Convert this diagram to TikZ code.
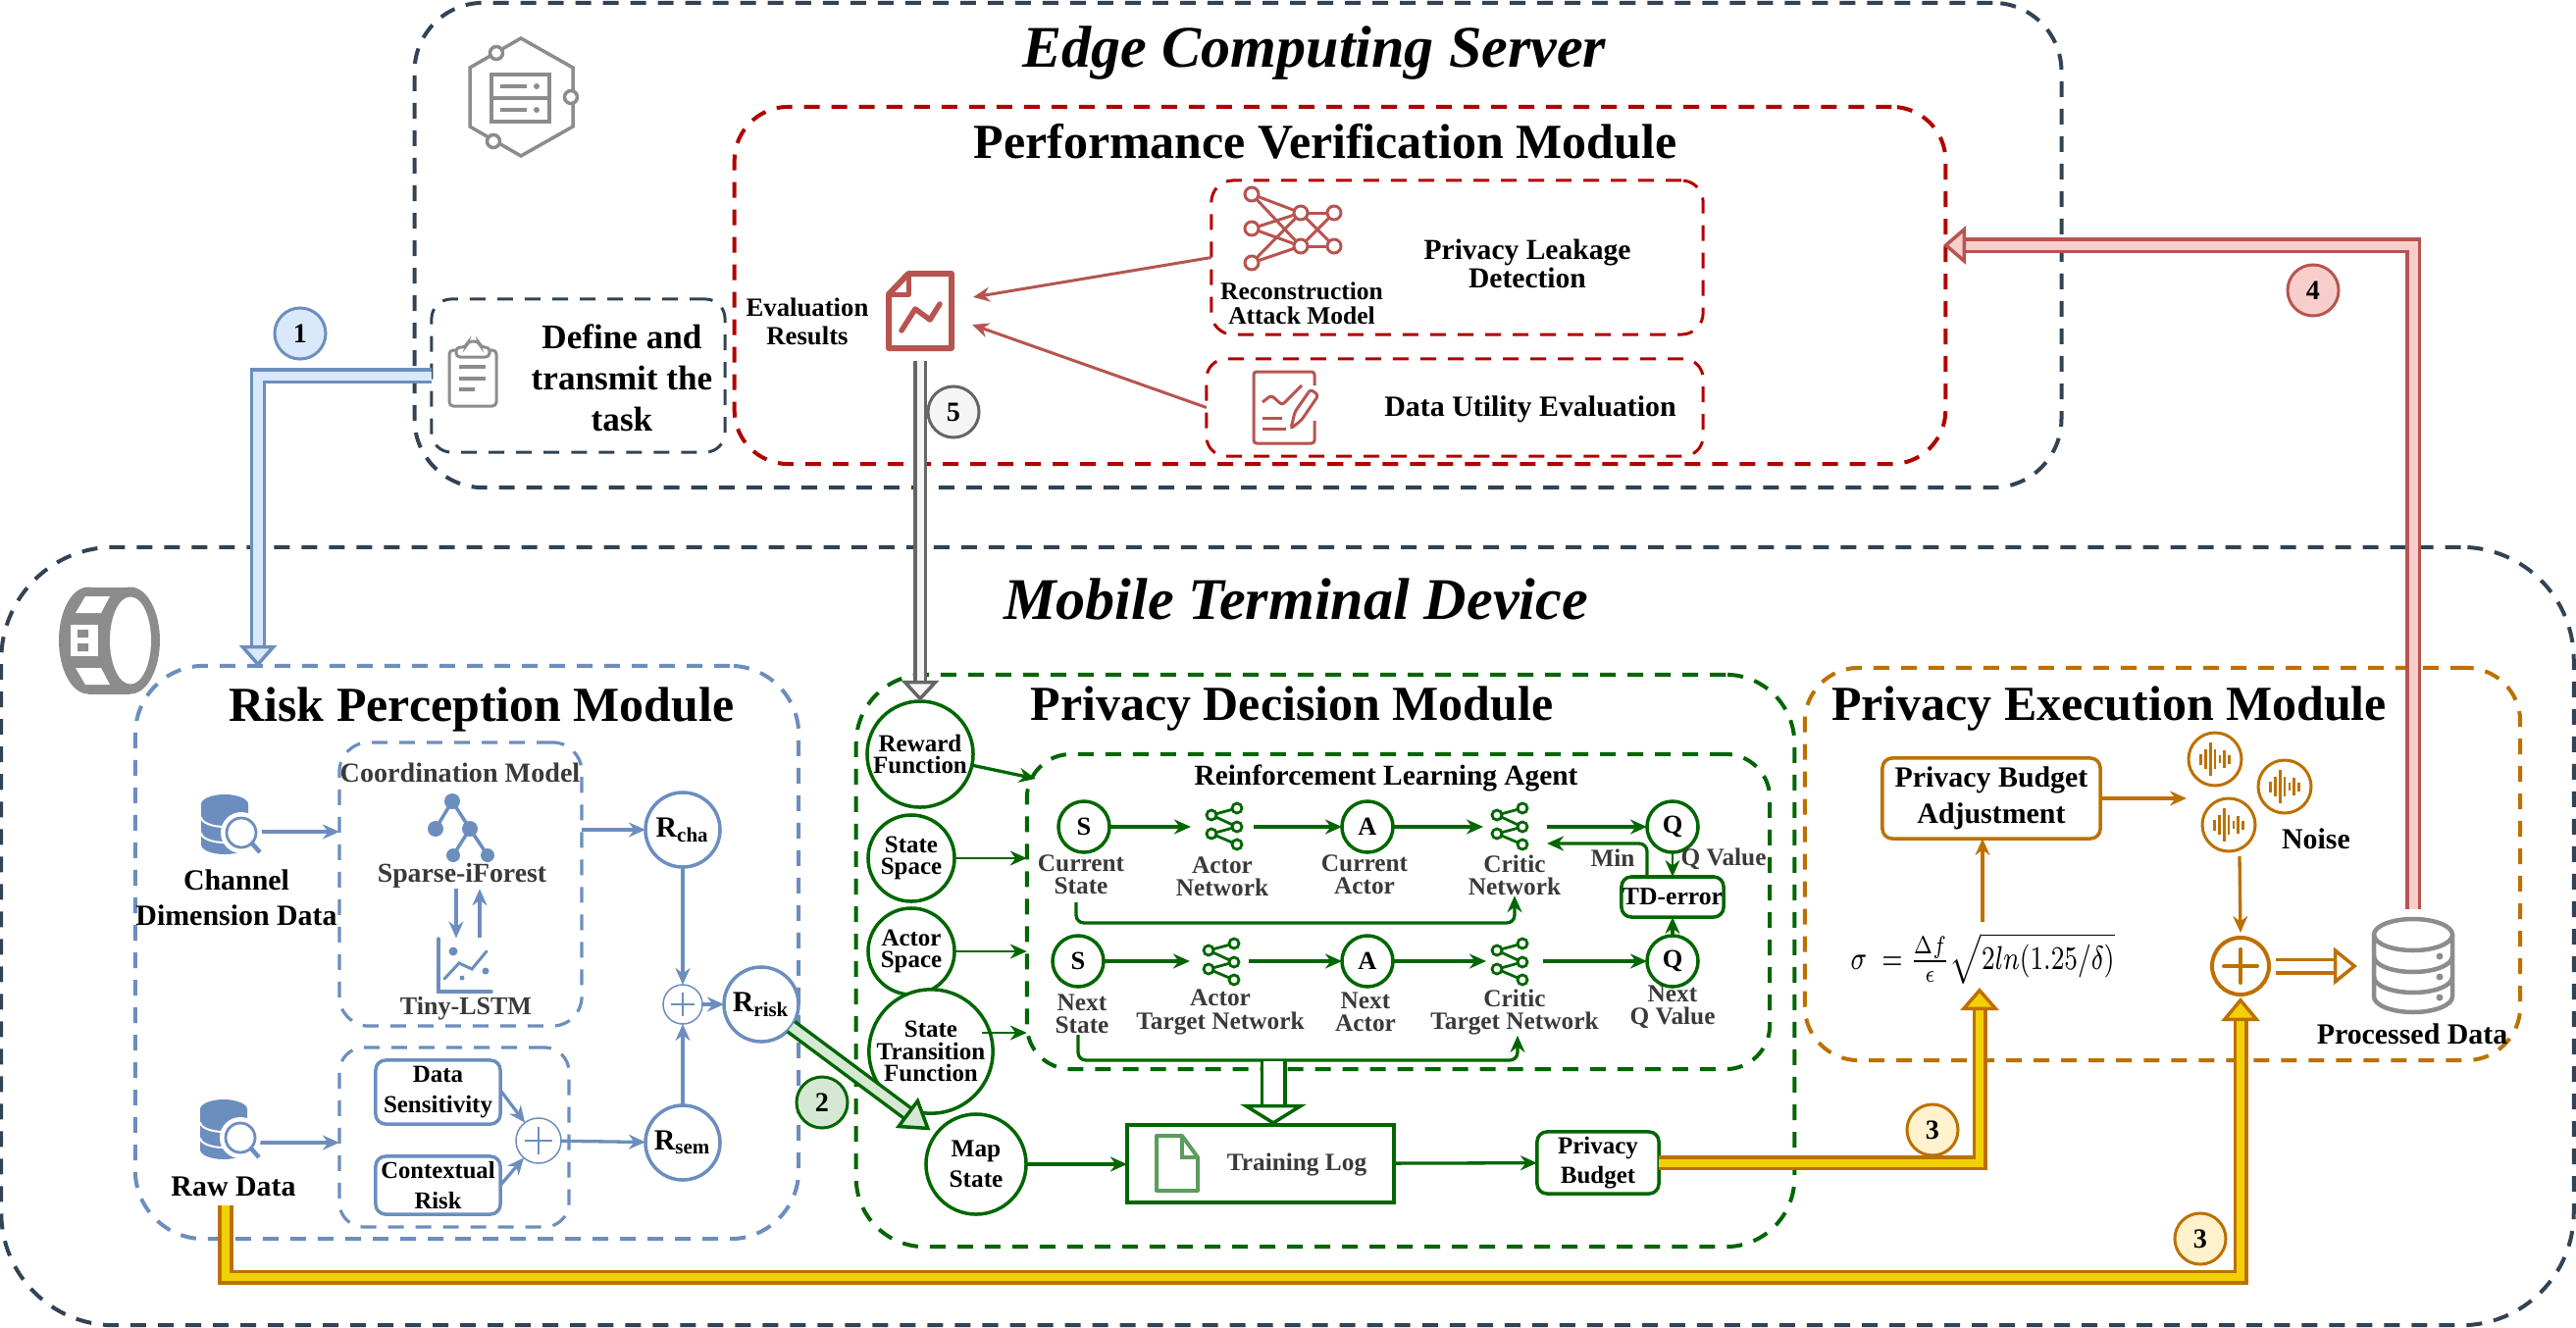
\documentclass[tikz,border=0pt]{standalone}
\usepackage{fontspec}
\setmainfont{Liberation Serif}
\usetikzlibrary{arrows.meta,shapes.geometric}

\definecolor{slateln}{HTML}{314354}
\definecolor{redln}{HTML}{B20000}
\definecolor{redic}{HTML}{B85450}
\definecolor{redfl}{HTML}{F8CECC}
\definecolor{blueln}{HTML}{6C8EBF}
\definecolor{bluefl}{HTML}{DAE8FC}
\definecolor{greenln}{HTML}{006600}
\definecolor{greenfl}{HTML}{D5E8D4}
\definecolor{greenic}{HTML}{5C9C5C}
\definecolor{orangeln}{HTML}{BD7000}
\definecolor{yellowfl}{HTML}{F2D008}
\definecolor{yellowpl}{HTML}{FFF2CC}
\definecolor{grayln}{HTML}{666666}
\definecolor{grayfl}{HTML}{F5F5F5}
\definecolor{grayic}{HTML}{8C8C8C}
\definecolor{labeltx}{HTML}{3A3A3A}

\tikzset{
  frame/.style 2 args={draw=#1,line width=.04cm,dash pattern=on .16cm off .12cm,rounded corners=#2,inner sep=0,outer sep=0},
  hugetx/.style={font=\bfseries\itshape\fontsize{17.1}{20}\selectfont},
  modtx/.style={font=\bfseries\fontsize{14.2}{17}\selectfont},
  bigtx/.style={font=\bfseries\fontsize{8.5}{10.2}\selectfont,align=center,inner sep=0},
  deftx/.style={font=\bfseries\fontsize{10}{12}\selectfont,align=center,inner sep=0},
  smalltx/.style={font=\bfseries\fontsize{7.2}{6.6}\selectfont,align=center,inner sep=0,text=labeltx},
  ringtx/.style={font=\bfseries\fontsize{7.1}{6.3}\selectfont,align=center,inner sep=0},
  ring/.style 2 args={circle,draw=#1,line width=.035cm,fill=white,minimum size=#2 cm,inner sep=0,outer sep=0},
  flow/.style={draw=#1,line width=.033cm,>={Stealth[length=.17cm,width=.15cm]},->},
  thinflow/.style={draw=#1,line width=.03cm,>={Stealth[length=.17cm,width=.15cm]},->},
  roundbox/.style={draw=#1,line width=.035cm,rounded corners=.1cm,inner sep=0,outer sep=0,fill=white},
  iconbox/.style 2 args={minimum width=#1 cm,minimum height=#2 cm,inner sep=0,outer sep=0},
  blockflow/.style n args={3}{draw=#1,double=#2,double distance=#3,line width=.035cm,line join=miter},
  numring/.style 2 args={circle,draw=#1,fill=#2,line width=.03cm,minimum size=.52cm,inner sep=0,font=\bfseries\fontsize{8}{9}\selectfont}
}

\newcommand{\shareicon}[2]{
  \begin{scope}[shift={(#1,#2)},draw=greenln,line width=.028cm]
    \draw (-13,-12) -- (13,-19) (-13,-12) -- (13,0) (-13,7) -- (13,0) (-13,7) -- (13,18);
    \foreach \pa/\pb in {-13/-12,13/-19,13/0,-13/7,13/18}
      \draw[fill=white] (\pa,\pb) circle[radius=5];
  \end{scope}
}
\newcommand{\noiseicon}[2]{
  \begin{scope}[shift={(#1,#2)}]
    \draw[orangeln,line width=.03cm] (0,0) circle[radius=27];
    \foreach \pa/\pb in {-14.3/5.5,-9.3/10,-4.7/16.7,0/10,5/4,9.7/9,14.3/4.5}
      \draw[orangeln,line width=.028cm] (\pa,-\pb) -- (\pa,\pb);
  \end{scope}
}
\newcommand{\dbsearch}[2]{
  \begin{scope}[shift={(#1,#2)}]
    \fill[blueln] (-24,0) -- (-24,41) arc[start angle=180,end angle=0,x radius=24,y radius=10] -- (24,0) -- cycle;
    \fill[blueln] (0,0) circle[x radius=24,y radius=10];
    \foreach \pa in {13,29}
      \draw[white,line width=.02cm] (-24,\pa) arc[start angle=180,end angle=0,x radius=24,y radius=10];
    \fill[white] (17,29) circle[radius=21];
    \draw[blueln,line width=.028cm,fill=white] (17,29) circle[radius=15];
    \draw[blueln,line width=.045cm] (28,40) -- (36,49);
  \end{scope}
}
\newcommand{\plusmark}[2]{
  \draw[blueln,line width=.015cm] ([xshift=-#2]#1.center) -- ([xshift=#2]#1.center) ([yshift=-#2]#1.center) -- ([yshift=#2]#1.center);
}

\begin{document}
\begin{tikzpicture}[x=.01cm,y=-.01cm]
\useasboundingbox (0,0) rectangle (2626,1354);

\node[frame={slateln}{.7cm},minimum width=16.78cm,minimum height=4.94cm] (edgebox) at (1262,250) {};
\node[frame={redln}{.55cm},minimum width=12.34cm,minimum height=3.64cm] (perfbox) at (1366,291) {};
\node[frame={redln}{.22cm},line width=.03cm,minimum width=5.01cm,minimum height=1.57cm] (leakbox) at (1485.5,262.5) {};
\node[frame={redln}{.2cm},line width=.03cm,minimum width=5.06cm,minimum height=.99cm] (utilbox) at (1483,415.5) {};
\node[frame={slateln}{.2cm},line width=.03cm,minimum width=2.99cm,minimum height=1.56cm] (definebox) at (589.5,383) {};
\node[frame={slateln}{1.15cm},minimum width=26.21cm,minimum height=7.93cm] (mobilebox) at (1312.5,954.5) {};
\node[frame={blueln}{.7cm},minimum width=6.76cm,minimum height=5.84cm] (riskbox) at (476,971) {};
\node[frame={blueln}{.3cm},line width=.032cm,minimum width=2.47cm,minimum height=2.89cm] (coordbox) at (469.5,901.5) {};
\node[frame={blueln}{.25cm},line width=.032cm,minimum width=2.34cm,minimum height=1.83cm] (fusebox) at (463,1159.5) {};
\node[frame={greenln}{.7cm},minimum width=9.56cm,minimum height=5.83cm] (decbox) at (1351,979.5) {};
\node[frame={greenln}{.45cm},minimum width=7.57cm,minimum height=3.21cm] (rlbox) at (1425.5,929.5) {};
\node[frame={orangeln}{.55cm},minimum width=7.29cm,minimum height=4cm] (execbox) at (2204.5,881) {};

\node[hugetx] (edgetitle) at (1340,54) {Edge Computing Server};
\node[hugetx] (mobiletitle) at (1321,611) {Mobile Terminal Device};
\node[modtx] (perftitle) at (1351,144) {Performance Verification Module};
\node[modtx] (risktitle) at (491,723) {Risk Perception Module};
\node[modtx] (dectitle) at (1317,723) {Privacy Decision Module};
\node[modtx] (exectitle) at (2150,723) {Privacy Execution Module};

\node[deftx,font=\bfseries\fontsize{10}{11.9}\selectfont] (definetx) at (634,385) {Define and\\transmit the\\task};
\node[bigtx,font=\bfseries\fontsize{7.6}{8.2}\selectfont] (evaltx) at (823,328) {Evaluation\\Results};
\node[bigtx,font=\bfseries\fontsize{7.25}{7}\selectfont] (recontx) at (1327,309) {Reconstruction\\Attack Model};
\node[bigtx,font=\bfseries\fontsize{8.4}{8.2}\selectfont] (leaktx) at (1557,269) {Privacy Leakage\\Detection};
\node[bigtx] (utiltx) at (1560,417) {Data Utility Evaluation};

\node[iconbox={.76}{.8}] (evalicon) at (938,317) {};
\coordinate (evalinA) at (992,303);
\coordinate (evalinB) at (991,331);
\coordinate (evalout) at (938,368);
\coordinate (perfin) at (1981,250);
\coordinate (redstart) at (2460,927);
\coordinate (riskin) at (263,680);

\node[bigtx] (channeltx) at (241,915) {Channel\\Dimension Data};
\node[bigtx] (rawtx) at (238,1210) {Raw Data};
\node[iconbox={.6}{.6}] (chanicon) at (235,848) {};
\node[iconbox={.6}{.6}] (rawicon) at (232,1165) {};
\node[bigtx,text=labeltx,font=\bfseries\fontsize{8}{9}\selectfont] (coordtx) at (469,788) {Coordination Model};
\node[bigtx,text=labeltx,font=\bfseries\fontsize{7.9}{9}\selectfont] (sparsetx) at (471,893) {Sparse-iForest};
\node[bigtx,text=labeltx,font=\bfseries\fontsize{7.4}{9}\selectfont] (lstmtx) at (475,1028) {Tiny-LSTM};
\node[iconbox={.6}{.55}] (lstmicon) at (473,984) {};
\node[ring={blueln}{.76},font=\bfseries\fontsize{8.5}{10}\selectfont] (rcha) at (696,846) {R\textsubscript{cha}};
\node[ring={blueln}{.76},font=\bfseries\fontsize{8.5}{10}\selectfont] (rsem) at (696,1165) {R\textsubscript{sem}};
\node[ring={blueln}{.76},font=\bfseries\fontsize{8.5}{10}\selectfont] (rrisk) at (776,1024) {R\textsubscript{risk}};
\node[ring={blueln}{.4},line width=.015cm] (plusa) at (696,1024) {};
\node[ring={blueln}{.46},line width=.015cm] (plusb) at (549,1163) {};
\node[roundbox=blueln,minimum width=1.27cm,minimum height=.65cm,font=\bfseries\fontsize{7.1}{8.8}\selectfont,align=center] (sensebox) at (446.5,1113.5) {Data\\Sensitivity};
\node[roundbox=blueln,minimum width=1.27cm,minimum height=.59cm,font=\bfseries\fontsize{7}{8.8}\selectfont,align=center] (ctxbox) at (446.5,1208.5) {Contextual\\Risk};

\node[ring={greenln}{1.08},ringtx] (reward) at (938,769) {Reward\\Function};
\node[ring={greenln}{.88},ringtx] (statesp) at (929,875) {State\\Space};
\node[ring={greenln}{.88},ringtx] (actorsp) at (929,970) {Actor\\Space};
\node[ring={greenln}{1.08},ringtx] (transfn) at (949,1072) {State\\Transition\\Function};
\node[ring={greenln}{1.02},ringtx,font=\bfseries\fontsize{7.2}{8.8}\selectfont] (mapstate) at (995,1187) {Map\\State};
\node[bigtx,font=\bfseries\fontsize{8.35}{10}\selectfont] (rltitle) at (1413,793) {Reinforcement Learning Agent};

\node[ring={greenln}{.52},font=\bfseries\fontsize{7.5}{9}\selectfont] (scur) at (1105,843) {S};
\node[ring={greenln}{.52},font=\bfseries\fontsize{7.5}{9}\selectfont] (acur) at (1394,843) {A};
\node[ring={greenln}{.52},font=\bfseries\fontsize{7.5}{9}\selectfont] (qcur) at (1705,843) {Q};
\node[ring={greenln}{.52},font=\bfseries\fontsize{7.5}{9}\selectfont] (snext) at (1099,980) {S};
\node[ring={greenln}{.52},font=\bfseries\fontsize{7.5}{9}\selectfont] (anext) at (1394,980) {A};
\node[ring={greenln}{.52},font=\bfseries\fontsize{7.5}{9}\selectfont] (qnext) at (1705,980) {Q};
\node[iconbox={.64}{.5}] (actnet) at (1246,843) {};
\node[iconbox={.65}{.5}] (critnet) at (1544.5,843) {};
\node[iconbox={.6}{.5}] (acttgt) at (1243,980) {};
\node[iconbox={.58}{.5}] (crittgt) at (1544,980) {};

\node[smalltx] (curstatetx) at (1102,892) {Current\\State};
\node[smalltx] (actnettx) at (1246,894) {Actor\\Network};
\node[smalltx] (curacttx) at (1391,892) {Current\\Actor};
\node[smalltx] (critnettx) at (1544,892) {Critic\\Network};
\node[smalltx] (nextstatetx) at (1103,1034) {Next\\State};
\node[smalltx] (acttgttx) at (1244,1032) {Actor\\Target Network};
\node[smalltx] (nextacttx) at (1392,1032) {Next\\Actor};
\node[smalltx] (crittgttx) at (1544,1032) {Critic\\Target Network};
\node[smalltx] (nextqtx) at (1705,1027) {Next\\Q Value};
\node[smalltx] (mintx) at (1644,875) {Min};
\node[smalltx] (qvaltx) at (1757,876) {Q Value};
\node[roundbox=greenln,minimum width=1.04cm,minimum height=.41cm,font=\bfseries\fontsize{7.3}{9}\selectfont] (tdbox) at (1705,914.5) {TD-error};

\node[draw=greenln,line width=.035cm,inner sep=0,outer sep=0,minimum width=2.72cm,minimum height=.79cm] (trainlog) at (1285,1186.5) {};
\node[smalltx] (traintx) at (1322,1187) {Training Log};
\node[roundbox=greenln,minimum width=1.24cm,minimum height=.63cm,font=\bfseries\fontsize{7.1}{8.6}\selectfont,align=center] (budget) at (1629,1185.5) {Privacy\\Budget};

\node[roundbox=orangeln,minimum width=2.22cm,minimum height=.82cm,font=\bfseries\fontsize{8.5}{10.4}\selectfont,align=center] (pbadj) at (2030,814) {Privacy Budget\\Adjustment};
\node[bigtx] (noisetx) at (2361,855) {Noise};
\node[bigtx] (proctx) at (2459,1054) {Processed Data};
\node[font=\fontsize{8.2}{10}\selectfont,inner sep=0] (formula) at (2021,977) {\scalebox{.915}[1.2]{$\sigma\;=\frac{\Delta f}{\epsilon}\sqrt{2ln(1.25/\delta)}$}};
\node[ring={orangeln}{.58},line width=.04cm,fill=none] (plusc) at (2284,985) {};
\node[iconbox={.86}{1}] (procdb) at (2460,985) {};

\coordinate (formout) at (2021,940);
\coordinate (formin) at (2018,1007);
\coordinate (noisein) at (2229,814);
\coordinate (noiseout) at (2283,873);
\coordinate (rawout) at (230,1229);
\coordinate (rawbend) at (230,1302);
\coordinate (critin) at (1577,860);
\coordinate (brkA) at (1097,920);
\coordinate (brkB) at (1097,941);
\coordinate (brkC) at (1099,1055);
\coordinate (brkD) at (1099,1081);
\coordinate (rlout) at (1298,1082);
\coordinate (transout) at (1001,1053);

\draw[thinflow=redic] (leakbox.west) -- (evalinA);
\draw[thinflow=redic] (utilbox.west) -- (evalinB);

\draw[flow=blueln] (chanicon) -- (coordbox.west |- chanicon);
\draw[flow=blueln] (rawicon) -- (fusebox.west |- rawicon);
\draw[flow=blueln] (coordbox.east |- rcha) -- (rcha);
\draw[flow=blueln] ([xshift=-.06cm]sparsetx.south) -- ([xshift=-.06cm]sparsetx.south |- lstmicon.north);
\draw[flow=blueln] ([xshift=.18cm]sparsetx.south |- lstmicon.north) -- ([xshift=.18cm]sparsetx.south);
\draw[flow=blueln] (rcha) -- (plusa);
\draw[flow=blueln] (rsem) -- (plusa);
\draw[flow=blueln] (plusa) -- (rrisk);
\draw[flow=blueln] (plusb) -- (rsem);
\draw[flow=blueln] ([yshift=.02cm]sensebox.east) -- (plusb);
\draw[flow=blueln] (ctxbox.east) -- (plusb);
\plusmark{plusa}{.12cm}
\plusmark{plusb}{.14cm}

\draw[flow=greenln] (reward) -- ([shift={(.09cm,-.25cm)}]rlbox.north west);
\draw[flow=greenln,line width=.025cm] (statesp) -- (rlbox.west |- statesp);
\draw[flow=greenln,line width=.025cm] (actorsp) -- (rlbox.west |- actorsp);
\draw[flow=greenln,line width=.025cm] (transout) -- (rlbox.west |- transout);
\draw[flow=greenln] (scur) -- (actnet);
\draw[flow=greenln] (actnet) -- (acur);
\draw[flow=greenln] (acur) -- (critnet);
\draw[flow=greenln] (critnet) -- (qcur);
\draw[flow=greenln] (snext) -- (acttgt);
\draw[flow=greenln] (acttgt) -- (anext);
\draw[flow=greenln] (anext) -- (crittgt);
\draw[flow=greenln] (crittgt) -- (qnext);
\draw[flow=greenln,line width=.025cm] (qcur) -- (tdbox);
\draw[flow=greenln] (qnext) -- (tdbox);
\draw[flow=greenln,rounded corners=.08cm] ([xshift=-.26cm]tdbox.north) |- (critin);
\draw[flow=greenln,rounded corners=.08cm] (brkA) -- (brkB) -| (critnettx.south);
\draw[flow=greenln,rounded corners=.08cm] (brkC) -- (brkD) -| ([xshift=.03cm]crittgttx.south);
\draw[flow=greenln] (mapstate) -- (trainlog.west |- mapstate);
\draw[flow=greenln] (trainlog) -- (budget);

\draw[flow=orangeln] (pbadj.east) -- (noisein);
\draw[flow=orangeln] (formout) -- (formout |- pbadj.south);
\draw[flow=orangeln] (noiseout) -- ([yshift=.05cm]plusc.north);

\draw[blockflow={blueln}{bluefl}{.09cm},-{Triangle[length=.22cm,width=.38cm,fill=bluefl]}] (definebox.west) -| (riskin);
\draw[blockflow={grayln}{grayfl}{.07cm},-{Triangle[length=.21cm,width=.38cm,fill=grayfl]}] (evalout) -- (reward.north);
\draw[blockflow={redic}{redfl}{.09cm},-{Triangle[length=.23cm,width=.39cm,fill=redfl]}] (redstart) |- (perfin);
\draw[blockflow={greenln}{greenfl}{.09cm},shorten >=.07cm,-{Triangle[length=.3cm,width=.38cm,fill=greenfl]}] (rrisk) -- (mapstate);
\draw[blockflow={orangeln}{yellowfl}{.08cm},shorten >=.03cm,-{Triangle[length=.24cm,width=.39cm,fill=yellowfl]}] (rawout) -- (rawbend) -| (plusc.south);
\draw[blockflow={orangeln}{yellowfl}{.08cm},-{Triangle[length=.23cm,width=.39cm,fill=yellowfl]}] (budget.east) -| (formin);
\draw[blockflow={greenln}{white}{.2cm},-{Triangle[length=.21cm,width=.67cm,fill=white]}] (rlout) -- (rlout |- trainlog.north);
\draw[blockflow={orangeln}{white}{.1cm},shorten <=.07cm,shorten >=.14cm,-{Triangle[length=.24cm,width=.38cm,fill=white]}] (plusc) -- (procdb);

\node[numring={blueln}{bluefl}] (stepa) at (306,340) {1};
\node[numring={greenln}{greenfl}] (stepb) at (838,1124) {2};
\node[numring={orangeln}{yellowpl}] (stepc) at (1970,1152) {3};
\node[numring={orangeln}{yellowpl}] (stepd) at (2243,1263) {3};
\node[numring={redic}{redfl}] (stepe) at (2358,296) {4};
\node[numring={grayln}{grayfl}] (stepf) at (972,420) {5};

\begin{scope}[grayic,line width=.035cm]
  \draw (531,39) -- (584,69) -- (584,129) -- (531,159) -- (479,129) -- (479,69) -- cycle;
  \draw (501,76) rectangle (560,124) (501,100) -- (560,100);
  \draw[line width=.04cm] (510,88) -- (537,88) (510,112) -- (537,112);
  \fill (547,88) circle[radius=3] (547,112) circle[radius=3];
  \draw[fill=white] (506,54) circle[radius=6.5] (582,99) circle[radius=6.5] (503,144) circle[radius=6.5];
\end{scope}

\begin{scope}[grayic,line width=.03cm,rounded corners=.04cm]
  \draw (465,357) -- (458,357) -- (458,414) -- (506,414) -- (506,357) -- (499,357);
  \draw[fill=white] (465,364) -- (465,354) -- (475,354) -- (477,348) -- (488,348) -- (490,354) -- (499,354) -- (499,364) -- cycle;
  \draw[line width=.035cm] (468,374) -- (495,374) (468,386) -- (495,386) (468,397) -- (484,397);
\end{scope}

\begin{scope}[redic,line width=.06cm,line join=round]
  \draw (926,279) -- (970,279) -- (970,355) -- (906,355) -- (906,300) -- cycle;
  \draw[line width=.05cm] (926,279) -- (926,300) -- (906,300);
  \draw[line cap=round,line width=.055cm] (919,337) -- (933,315) -- (948,326) -- (958,310);
\end{scope}

\begin{scope}[redic,line width=.03cm]
  \foreach \pa in {198,233,268} \foreach \pb in {217,251} \draw (1276,\pa) -- (1326,\pb);
  \foreach \pa in {217,251} \foreach \pb in {217,251} \draw (1326,\pa) -- (1360,\pb);
  \foreach \pa/\pb in {1276/198,1276/233,1276/268,1326/217,1326/251,1360/217,1360/251}
    \draw[fill=white] (\pa,\pb) circle[radius=7];
\end{scope}

\begin{scope}[redic,line width=.03cm,rounded corners=.03cm]
  \draw (1340,393) -- (1340,379) -- (1278,379) -- (1278,452) -- (1340,452) -- (1340,429);
  \draw (1287,410) -- (1296,403) -- (1307,413) -- (1327,393);
  \draw (1287,426) -- (1307,426) (1287,437) -- (1311,437);
  \draw (1316,437) -- (1320,420) -- (1336,397) -- (1344,403) -- (1327,428) -- cycle;
\end{scope}

\begin{scope}[grayic]
  \fill (90,653) circle[x radius=30,y radius=54.5];
  \fill (133,653) circle[x radius=30,y radius=54.5];
  \fill (90,598.5) rectangle (133,707.5);
  \fill[white] (133,653) circle[x radius=21,y radius=44.5];
  \fill[white] (87,608) -- (112,608) -- (103,625) -- (77,625) -- cycle;
  \fill[white] (77,681) -- (103,681) -- (112,698) -- (87,698) -- cycle;
  \fill[white] (72,637) rectangle (100,669);
  \fill (79,642) rectangle (90,650) (79,656) rectangle (90,664);
\end{scope}

\dbsearch{229}{820}
\dbsearch{228}{1131}

\begin{scope}[blueln]
  \draw[line width=.035cm] (461,817) -- (444,845) (461,817) -- (479,845) -- (462,872) (479,845) -- (497,872);
  \fill (461,817) circle[radius=8] (444,845) circle[radius=8] (479,845) circle[radius=8] (462,872) circle[radius=7] (497,872) circle[radius=7];
  \draw[line width=.035cm,line cap=round] (447,957) -- (447,1011) -- (501,1011);
  \draw[line width=.03cm,line cap=round] (453,998) -- (468,982) -- (481,988) -- (496,970);
  \fill (462,970) circle[radius=4.5] (495,990) circle[radius=3.5] (471,997) circle[radius=2.5];
\end{scope}

\shareicon{1248}{843}
\shareicon{1539}{843}
\shareicon{1245}{981}
\shareicon{1539}{981}

\draw[greenic,line width=.04cm,line join=round] (1179,1158) -- (1205,1158) -- (1221,1180) -- (1221,1214) -- (1179,1214) -- cycle;
\draw[greenic,line width=.035cm] (1205,1158) -- (1205,1180) -- (1221,1180);

\noiseicon{2258}{774}
\noiseicon{2329}{802}
\noiseicon{2272}{841}
\draw[orangeln,line width=.04cm,line cap=round] (2267,985) -- (2301,985) (2284,968) -- (2284,1002);

\begin{scope}[grayic,line width=.045cm]
  \draw (2420,953) -- (2420,1016) arc[start angle=180,end angle=0,x radius=40,y radius=16] -- (2500,953);
  \draw (2460,953) circle[x radius=40,y radius=16];
  \draw (2420,975) arc[start angle=180,end angle=0,x radius=40,y radius=16];
  \draw (2420,996) arc[start angle=180,end angle=0,x radius=40,y radius=16];
  \fill (2487,975) circle[radius=3.5] (2487,996) circle[radius=3.5] (2487,1017) circle[radius=3.5];
\end{scope}
\end{tikzpicture}
\end{document}
